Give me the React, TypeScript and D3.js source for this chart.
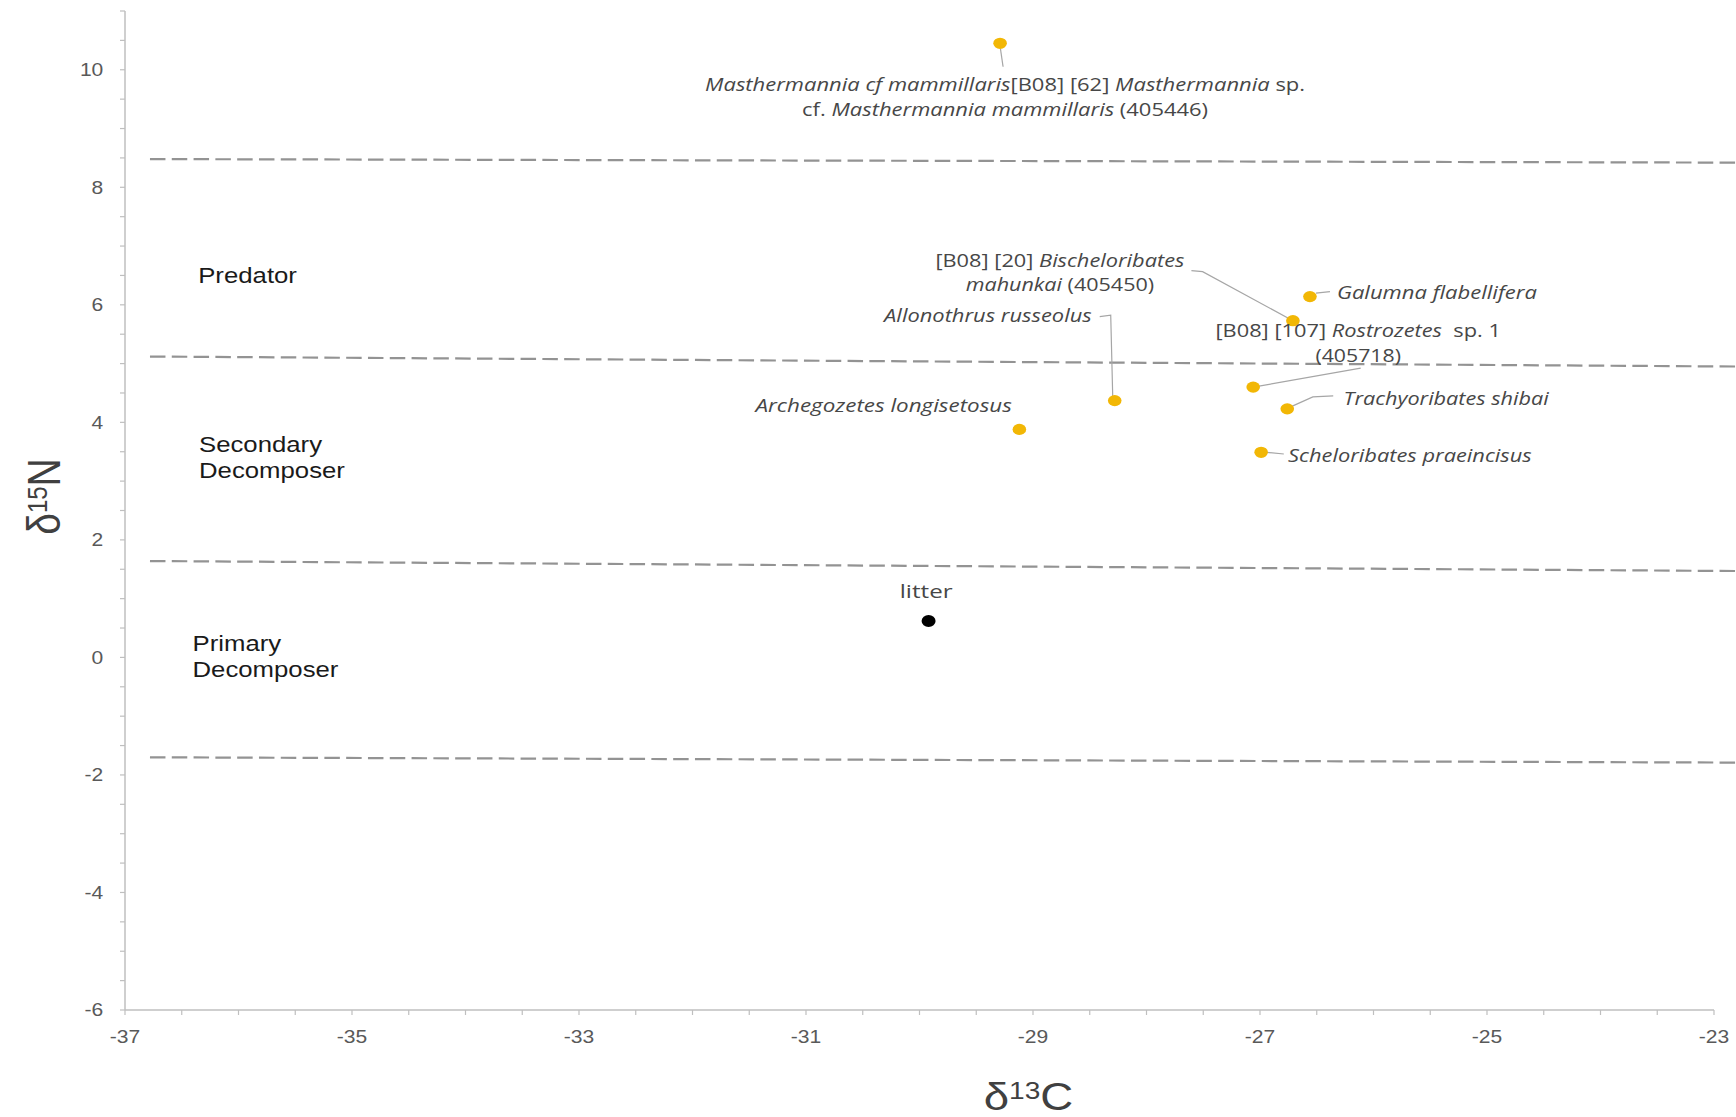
import React from 'react';
import * as d3 from 'd3';

// ---------------- data ----------------
const taxa = [
  'Masthermannia cf mammillaris',
  'Bischeloribates mahunkai',
  'Galumna flabellifera',
  'Rostrozetes sp. 1',
  'Trachyoribates shibai',
  'Scheloribates praeincisus',
  'Allonothrus russeolus',
  'Archegozetes longisetosus',
  'litter',
];
const d13C = [-29.29, -26.71, -26.56, -27.06, -26.76, -26.99, -28.28, -29.12, -29.92];
const d15N = [10.45, 5.73, 6.14, 4.6, 4.23, 3.49, 4.37, 3.88, 0.62];
const kind = ['mite', 'mite', 'mite', 'mite', 'mite', 'mite', 'mite', 'mite', 'litter'];

// trophic boundaries (dashed lines), δ15N at left and right ends
const boundaryC = [-36.78, -22.8];
const boundaryNLeft = [8.48, 5.12, 1.64, -1.7];
const boundaryNRight = [8.42, 4.95, 1.47, -1.79];

const zoneNames = [['Predator'], ['Secondary', 'Decomposer'], ['Primary', 'Decomposer']];
const zoneC = [-36.355, -36.348, -36.405];
const zoneN = [6.37, 3.5, 0.11];

const xTickValues = [-37, -35, -33, -31, -29, -27, -25, -23];
const xTickLabels = ['-37', '-35', '-33', '-31', '-29', '-27', '-25', '-23'];
const yTickValues = [-6, -4, -2, 0, 2, 4, 6, 8, 10];
const yTickLabels = ['-6', '-4', '-2', '0', '2', '4', '6', '8', '10'];

// label text: [text, italic]
type Seg = [string, boolean];
const labelLines: Seg[][][] = [
  [
    [['Masthermannia cf mammillaris', true], ['[B08] [62] ', false], ['Masthermannia', true], [' sp.', false]],
    [['cf. ', false], ['Masthermannia mammillaris', true], [' (405446)', false]],
  ],
  [
    [['[B08] [20] ', false], ['Bischeloribates', true]],
    [['mahunkai', true], [' (405450)', false]],
  ],
  [[['Galumna flabellifera', true]]],
  [
    [['[B08] [107] ', false], ['Rostrozetes', true], ['\u00a0 sp. 1', false]],
    [['(405718)', false]],
  ],
  [[['Trachyoribates shibai', true]]],
  [[['Scheloribates praeincisus', true]]],
  [[['Allonothrus russeolus', true]]],
  [[['Archegozetes longisetosus', true]]],
  [[['litter', false]]],
];

// ---------------- layout ----------------
const W = 1736;
const H = 1117;
const SX = 1.17; // horizontal stretch of the original picture

type Layout = {
  dx: number;
  dy: number;
  lh: number;
  anchor: 'start' | 'middle' | 'end';
  widths: number[];
  leader: [number, number][];
};
const labelLayout: Layout[] = [
  { dx: 5, dy: 48, lh: 25, anchor: 'middle', widths: [600, 406], leader: [[0.3, 5], [3, 23.4]] },
  { dx: -233, dy: -54, lh: 24.5, anchor: 'middle', widths: [249, 188.4], leader: [[-101.5, -50], [-90.3, -49], [0, 0]] },
  { dx: 27, dy: 2.4, lh: 0, anchor: 'start', widths: [200], leader: [[6, -3.5], [20, -5]] },
  { dx: 105, dy: -50, lh: 24.7, anchor: 'middle', widths: [285.5, 85.5], leader: [[0, 0], [107.5, -19]] },
  { dx: 56.4, dy: -3.8, lh: 0, anchor: 'start', widths: [205], leader: [[3.4, -2], [25.6, -12], [46, -13]] },
  { dx: 27, dy: 9.4, lh: 0, anchor: 'start', widths: [243.6], leader: [[5.6, 0], [22.7, 1.7]] },
  { dx: -23, dy: -79, lh: 0, anchor: 'end', widths: [207.6], leader: [[-15, -84], [-4, -85.5], [-2, -4]] },
  { dx: -7.5, dy: -17.7, lh: 0, anchor: 'end', widths: [256.4], leader: [] },
  { dx: -2.4, dy: -22.7, lh: 0, anchor: 'middle', widths: [52.8], leader: [] },
];
const zoneLineHeight = [0, 26.6, 26];

const AXIS = '#bfbfbf';
const TICKTXT = '#595959';
const LABEL = '#474747';
const YELLOW = '#f2b705';

export default function App() {
  const x = d3.scaleLinear().domain([-37, -23]).range([125, 1714]);
  const y = d3.scaleLinear().domain([-6, 11]).range([1010, 11]);

  const xMinor = d3.range(-37, -22.99, 0.5);
  const yMinor = d3.range(-6, 11.01, 0.5);
  const leaderLine = d3.line<[number, number]>();

  return (
    <svg
      width={W}
      height={H}
      style={{ position: 'absolute', left: 0, top: 0, background: '#fff', display: 'block' }}
    >
      <rect width={W} height={H} fill="#fff" />

      {/* boundaries */}
      {boundaryNLeft.map((v, i) => (
        <line
          key={'b' + i}
          x1={x(boundaryC[0])}
          x2={x(boundaryC[1])}
          y1={y(v)}
          y2={y(boundaryNRight[i])}
          stroke="#939393"
          strokeWidth={2.2}
          strokeDasharray="15.5 6.3"
        />
      ))}

      {/* axes */}
      <line x1={x(-37)} x2={x(-37)} y1={y(11)} y2={y(-6)} stroke={AXIS} strokeWidth={1.5} />
      <line x1={x(-37)} x2={x(-23)} y1={y(-6)} y2={y(-6)} stroke={AXIS} strokeWidth={1.5} />
      {xMinor.map((v) => (
        <line key={'xt' + v} x1={x(v)} x2={x(v)} y1={y(-6)} y2={y(-6) + 5} stroke={AXIS} strokeWidth={1.2} />
      ))}
      {yMinor.map((v) => (
        <line key={'yt' + v} x1={x(-37) - 5} x2={x(-37)} y1={y(v)} y2={y(v)} stroke={AXIS} strokeWidth={1.2} />
      ))}
      {xTickValues.map((v, i) => (
        <text
          key={'xl' + v}
          transform={`translate(${x(v)},${y(-6) + 33.3}) scale(${SX},1)`}
          textAnchor="middle"
          fontFamily="Liberation Sans, Arial, sans-serif"
          fontSize={18}
          fill={TICKTXT}
        >
          {xTickLabels[i]}
        </text>
      ))}
      {yTickValues.map((v, i) => (
        <text
          key={'yl' + v}
          transform={`translate(${x(-37) - 21.7},${y(v) + 6.3}) scale(${SX},1)`}
          textAnchor="end"
          fontFamily="Liberation Sans, Arial, sans-serif"
          fontSize={18}
          fill={TICKTXT}
        >
          {yTickLabels[i]}
        </text>
      ))}

      {/* axis titles */}
      <text
        transform={`translate(${x(-29) - 4.5},1110) scale(${SX},1)`}
        textAnchor="middle"
        fontFamily="Liberation Sans, Arial, sans-serif"
        fontSize={39}
        fill="#404040"
      >
        δ<tspan dy={-11} fontSize={24}>13</tspan>
        <tspan dy={11}>C</tspan>
      </text>
      <text
        transform={`translate(59.5,${(y(11) + y(-6)) / 2 - 14}) scale(${SX},1) rotate(-90)`}
        textAnchor="middle"
        fontFamily="Liberation Sans, Arial, sans-serif"
        fontSize={39}
        fill="#404040"
      >
        δ<tspan dy={-11} fontSize={24}>15</tspan>
        <tspan dy={11}>N</tspan>
      </text>

      {/* zone names */}
      {zoneNames.map((lines, i) =>
        lines.map((t, j) => (
          <text
            key={'z' + i + j}
            transform={`translate(${x(zoneC[i])},${y(zoneN[i]) + j * zoneLineHeight[i]}) scale(${SX},1)`}
            fontFamily="Liberation Sans, Arial, sans-serif"
            fontSize={22}
            fill="#1a1a1a"
          >
            {t}
          </text>
        ))
      )}

      {/* leader lines */}
      {labelLayout.map((L, i) =>
        L.leader.length ? (
          <path
            key={'ld' + i}
            d={leaderLine(L.leader.map(([a, b]) => [x(d13C[i]) + a, y(d15N[i]) + b]) as [number, number][]) || ''}
            fill="none"
            stroke="#a6a6a6"
            strokeWidth={1.2}
          />
        ) : null
      )}

      {/* points */}
      {d13C.map((c, i) => (
        <ellipse
          key={'p' + i}
          cx={x(c)}
          cy={y(d15N[i])}
          rx={kind[i] === 'litter' ? 7 : 6.8}
          ry={kind[i] === 'litter' ? 6 : 5.6}
          fill={kind[i] === 'litter' ? '#000' : YELLOW}
        >
          <title>{taxa[i]}</title>
        </ellipse>
      ))}

      {/* data labels */}
      {labelLines.map((lines, i) => {
        const L = labelLayout[i];
        return lines.map((segs, j) => (
          <text
            key={'lb' + i + '_' + j}
            x={x(d13C[i]) + L.dx}
            y={y(d15N[i]) + L.dy + j * L.lh}
            textAnchor={L.anchor}
            textLength={L.widths[j]}
            lengthAdjust="spacingAndGlyphs"
            fontFamily="Open Sans, Noto Sans, sans-serif"
            fontSize={18}
            fill={LABEL}
          >
            {segs.map(([t, it], k) => (
              <tspan key={k} fontStyle={it ? 'italic' : 'normal'}>
                {t}
              </tspan>
            ))}
          </text>
        ));
      })}
    </svg>
  );
}
